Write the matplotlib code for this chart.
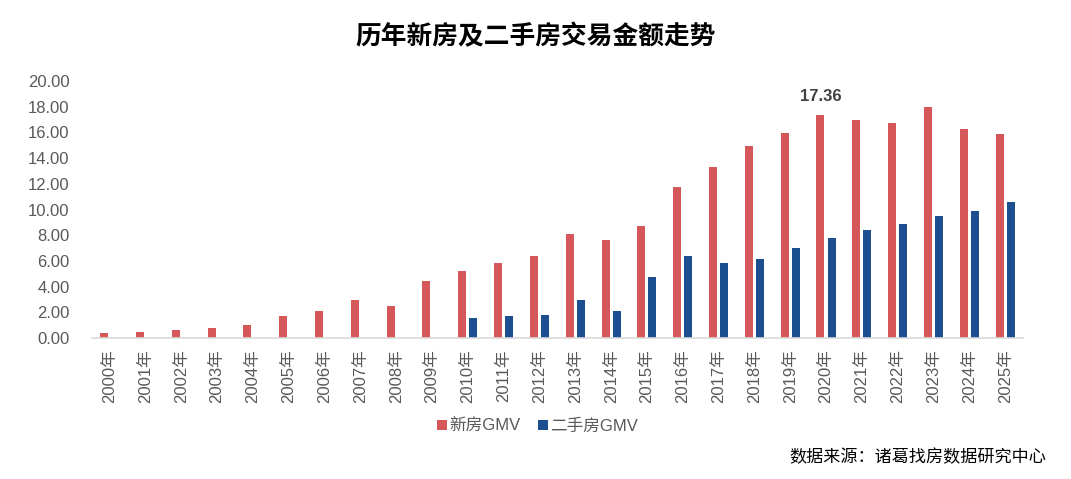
import matplotlib
matplotlib.use("Agg")
import matplotlib.pyplot as plt
import numpy as np

years = [f"{y}年" for y in range(2000, 2026)]
new_gmv = [0.39, 0.47, 0.62, 0.78, 1.01, 1.71, 2.10, 2.96, 2.49, 4.44,
           5.22, 5.84, 6.39, 8.10, 7.64, 8.73, 11.77, 13.33, 14.96, 15.98,
           17.36, 16.99, 16.76, 18.00, 16.29, 15.90]
second_gmv = [0, 0, 0, 0, 0, 0, 0, 0, 0, 0,
              1.57, 1.73, 1.81, 2.96, 2.10, 4.75, 6.39, 5.84, 6.15, 7.01,
              7.79, 8.42, 8.88, 9.51, 9.90, 10.60]
series_names = ["新房GMV", "二手房GMV"]
yticks = [0, 2, 4, 6, 8, 10, 12, 14, 16, 18, 20]
highlight_idx = 20

fam = ["Liberation Sans", "Noto Sans CJK SC", "DejaVu Sans"]
plt.rcParams["font.family"] = fam

RED = "#D6575A"
BLUE = "#1B4F8F"
GRAY = "#595959"

fig = plt.figure(figsize=(10.71, 4.79), dpi=100)
ax = fig.add_axes([91.7 / 1071, 1 - 338 / 479, (1023 - 91.7) / 1071, (338 - 81) / 479])

x = np.arange(len(years))
w = 0.223
off = 0.154
ax.bar(x - off, new_gmv, width=w, color=RED, label=series_names[0])
ax.bar(x + off, second_gmv, width=w, color=BLUE, label=series_names[1])

ax.set_xlim(-0.5, len(years) - 0.5)
ax.set_ylim(0, 20)
ax.set_yticks(yticks)
ax.set_yticklabels([f"{v:.2f}" for v in yticks], color=GRAY, fontsize=12)
ax.set_xticks(x)
ax.set_xticklabels(years, rotation=90, color=GRAY, fontsize=12)
ax.tick_params(axis="both", length=0)
ax.tick_params(axis="y", pad=16)
ax.tick_params(axis="x", pad=8)
for s in ["top", "right", "left"]:
    ax.spines[s].set_visible(False)
ax.spines["bottom"].set_color("#D9D9D9")
ax.spines["bottom"].set_linewidth(1.2)

ax.annotate(f"{new_gmv[highlight_idx]:.2f}", xy=(x[highlight_idx] - off, new_gmv[highlight_idx]),
            xytext=(0, 11), textcoords="offset pixels", ha="center", va="bottom",
            fontsize=12, fontweight="bold", color="#404040")

fig.text(0.5, 1 - 37 / 479, "历年新房及二手房交易金额走势", ha="center", va="center",
         fontsize=18.5, fontweight="bold", family=["Noto Sans CJK SC", "DejaVu Sans"], color="black")

leg = fig.legend(loc="center", bbox_to_anchor=(0.502, 1 - 426 / 479), ncol=2, frameon=False,
                 fontsize=12, handlelength=0.6, handleheight=0.6, handletextpad=0.15,
                 columnspacing=1.0)
for t in leg.get_texts():
    t.set_color(GRAY)

fig.text(1046 / 1071, 1 - 457 / 479, "数据来源：诸葛找房数据研究中心", ha="right", va="center",
         fontsize=12.3, family=["Noto Sans CJK SC", "DejaVu Sans"], color="black")

fig.savefig("out.png", dpi=100, facecolor="white")
